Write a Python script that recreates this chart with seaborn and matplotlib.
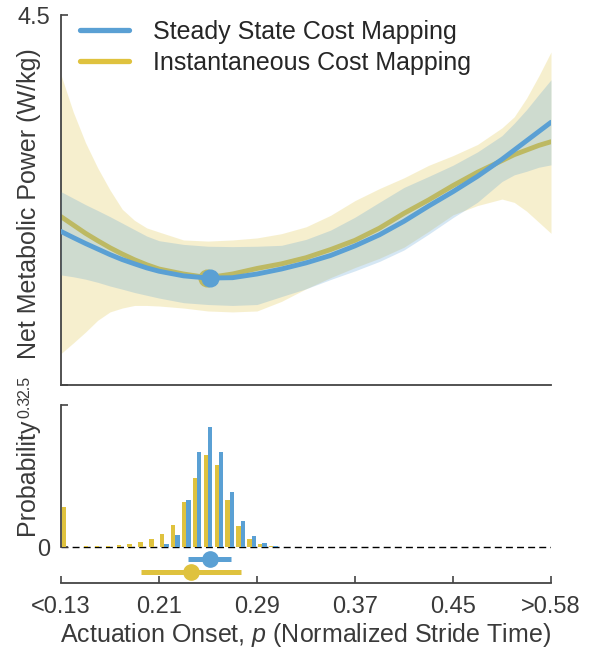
import numpy as np
import pandas as pd
import matplotlib
matplotlib.use('Agg')
import matplotlib.pyplot as plt
from matplotlib.lines import Line2D
import seaborn as sns

# 颜色
BLUE = '#5aa0d4'
YELLOW = '#dfc23e'
AXC = '#444444'
TXT = '#3a3a3a'

# 上图：代价映射曲线
onset = [0.13, 0.14, 0.15, 0.16, 0.17, 0.18, 0.19, 0.20, 0.21, 0.23, 0.25, 0.27, 0.29, 0.31,
         0.33, 0.35, 0.37, 0.39, 0.41, 0.43, 0.45, 0.47, 0.49, 0.50, 0.51, 0.52, 0.53]
ss_mean = [3.33, 3.297, 3.265, 3.235, 3.205, 3.178, 3.155, 3.133, 3.115, 3.09, 3.078, 3.08,
           3.10, 3.127, 3.16, 3.20, 3.252, 3.312, 3.385, 3.467, 3.545, 3.628, 3.72, 3.77,
           3.82, 3.87, 3.92]
ss_upper = [3.545, 3.51, 3.475, 3.443, 3.41, 3.375, 3.34, 3.305, 3.28, 3.26, 3.25, 3.248,
            3.25, 3.255, 3.287, 3.337, 3.407, 3.488, 3.568, 3.627, 3.688, 3.76, 3.848,
            3.915, 3.988, 4.07, 4.15]
ss_lower = [3.095, 3.085, 3.072, 3.055, 3.035, 3.018, 3.0, 2.985, 2.97, 2.945, 2.935, 2.93,
            2.935, 2.978, 3.02, 3.07, 3.117, 3.168, 3.23, 3.315, 3.405, 3.488, 3.6, 3.636,
            3.655, 3.677, 3.69]
ic_mean = [3.41, 3.365, 3.32, 3.28, 3.242, 3.208, 3.177, 3.15, 3.127, 3.10, 3.08, 3.10,
           3.13, 3.155, 3.188, 3.232, 3.282, 3.348, 3.428, 3.50, 3.578, 3.65, 3.713, 3.745,
           3.77, 3.795, 3.815]
ic_upper = [4.176, 3.976, 3.81, 3.673, 3.554, 3.45, 3.39, 3.349, 3.327, 3.284, 3.278, 3.284,
            3.295, 3.318, 3.355, 3.417, 3.497, 3.562, 3.62, 3.687, 3.74, 3.80, 3.89, 3.95,
            4.05, 4.17, 4.30]
ic_lower = [2.67, 2.727, 2.786, 2.85, 2.895, 2.916, 2.93, 2.93, 2.927, 2.916, 2.90, 2.895,
            2.90, 2.952, 3.02, 3.08, 3.135, 3.185, 3.245, 3.33, 3.42, 3.47, 3.505, 3.487,
            3.44, 3.38, 3.32]

# 最优点
opt_onset = {'ss': 0.252, 'ic': 0.2495}
opt_cost = {'ss': 3.078, 'ic': 3.08}

# 下图：直方图
bin_center = [0.13444, 0.14333, 0.15222, 0.16111, 0.17000, 0.17889, 0.18778,
              0.19667, 0.20556, 0.21444, 0.22333, 0.23222, 0.24111, 0.25000,
              0.25889, 0.26778, 0.27667, 0.28556, 0.29444, 0.30333, 0.31222]
prob_ic = [0.084, 0.0, 0.002, 0.002, 0.002, 0.004, 0.006, 0.011, 0.017, 0.027, 0.046,
           0.095, 0.146, 0.194, 0.173, 0.099, 0.044, 0.017, 0.006, 0.002, 0.001]
prob_ss = [0.001, 0.0, 0.0, 0.0, 0.0, 0.0, 0.0, 0.0, 0.0, 0.006, 0.025,
           0.099, 0.201, 0.254, 0.201, 0.116, 0.055, 0.023, 0.0085, 0.002, 0.0]

# 最优点及区间
est_onset = [0.2519, 0.2359]
est_low = [0.2339, 0.1953]
est_high = [0.2685, 0.2769]
est_row = [-0.0243, -0.0522]

labels = ['Steady State Cost Mapping', 'Instantaneous Cost Mapping']
xtick_pos = [0.13, 0.21, 0.29, 0.37, 0.45, 0.53]
xtick_lab = ['<0.13', '0.21', '0.29', '0.37', '0.45', '>0.58']

sns.set_style('ticks')
plt.rcParams['font.family'] = ['Liberation Sans', 'DejaVu Sans']
plt.rcParams['mathtext.fontset'] = 'custom'
plt.rcParams['mathtext.it'] = 'Liberation Sans:italic'
plt.rcParams['mathtext.rm'] = 'Liberation Sans'

fig = plt.figure(figsize=(5.94, 6.5), dpi=100)
ax1 = fig.add_axes([61 / 594, 1 - 385 / 650, 490 / 594, 370 / 650])
ax2 = fig.add_axes([61 / 594, 1 - 583 / 650, 490 / 594, 193 / 650])
ax2.patch.set_visible(False)

# 上图
ax1.fill_between(onset, ic_lower, ic_upper, color=YELLOW, alpha=0.25, lw=0, zorder=1)
sns.lineplot(x=onset, y=ic_mean, color=YELLOW, lw=3.5, ax=ax1, zorder=2)
ax1.plot(opt_onset['ic'], opt_cost['ic'], 'o', color=YELLOW, ms=12, zorder=2.5)
ax1.fill_between(onset, ss_lower, ss_upper, color=BLUE, alpha=0.25, lw=0, zorder=3)
sns.lineplot(x=onset, y=ss_mean, color=BLUE, lw=3.5, ax=ax1, zorder=4)
ax1.plot(opt_onset['ss'], opt_cost['ss'], 'o', color=BLUE, ms=12, zorder=5)

ax1.set_xlim(0.13, 0.53)
ax1.set_ylim(2.5, 4.5)
ax1.set_yticks([2.5, 4.5])
ax1.set_yticklabels(['', '4.5'])
ax1.tick_params(axis='x', bottom=False, labelbottom=False)
ax1.set_ylabel('Net Metabolic Power (W/kg)', fontsize=18, color=TXT)
ax1.yaxis.set_label_coords(-0.04, 0.49)

handles = [Line2D([], [], color=BLUE, lw=3.8), Line2D([], [], color=YELLOW, lw=3.8)]
ax1.legend(handles, labels, loc='upper left', bbox_to_anchor=(0.039, 0.987),
           frameon=False, fontsize=18, handlelength=1.95, handletextpad=0.95,
           borderpad=0, borderaxespad=0, labelspacing=0.29)

# 下图
df = pd.DataFrame({
    'onset': bin_center * 2,
    'prob': prob_ss + prob_ic,
    'mapping': ['ss'] * len(bin_center) + ['ic'] * len(bin_center),
})
sns.barplot(data=df, x='onset', y='prob', hue='mapping', hue_order=['ic', 'ss'],
            palette={'ss': BLUE, 'ic': YELLOW}, native_scale=True, errorbar=None,
            saturation=1, width=0.8, linewidth=0, legend=False, ax=ax2)
ax2.axhline(0, color='k', ls=(0, (5, 3)), lw=1, zorder=0)

for i, c in enumerate([BLUE, YELLOW]):
    ax2.errorbar(est_onset[i], est_row[i],
                 xerr=[[est_onset[i] - est_low[i]], [est_high[i] - est_onset[i]]],
                 fmt='o', color=c, ms=11, elinewidth=3.6, capsize=0, zorder=5)

ax2.set_xlim(0.13, 0.53)
ax2.set_ylim(-0.076, 0.332)
ax2.set_yticks([0, 0.3])
ax2.set_yticklabels(['0', ''])
ax2.set_xticks(xtick_pos)
ax2.set_xticklabels(xtick_lab)
ax2.spines['left'].set_bounds(0, 0.3)
ax2.set_ylabel('Probability', fontsize=18, color=TXT)
ax2.yaxis.set_label_coords(-0.045, 0.549)
ax2.set_xlabel('Actuation Onset, $\\mathit{p}$ (Normalized Stride Time)', fontsize=18,
               color=TXT, labelpad=2)

for ax in (ax1, ax2):
    for s in ('top', 'right'):
        ax.spines[s].set_visible(False)
    for s in ('left', 'bottom'):
        ax.spines[s].set_color(AXC)
        ax.spines[s].set_linewidth(1.3)
    ax.tick_params(direction='in', length=5, width=1.2, color=AXC,
                   labelsize=17, labelcolor=TXT, pad=8)
ax2.tick_params(axis='x', pad=9.5)

# 2.5 和 0.3 竖排（原图里是这样）
for txt, yy in (('2.5', 387), ('0.3', 407)):
    fig.text(25 / 594, 1 - yy / 650, txt, rotation=90, ha='center', va='center',
             fontsize=11.5, color=TXT, family=['Liberation Sans Narrow', 'Liberation Sans'])

fig.savefig('out.png', dpi=100)
